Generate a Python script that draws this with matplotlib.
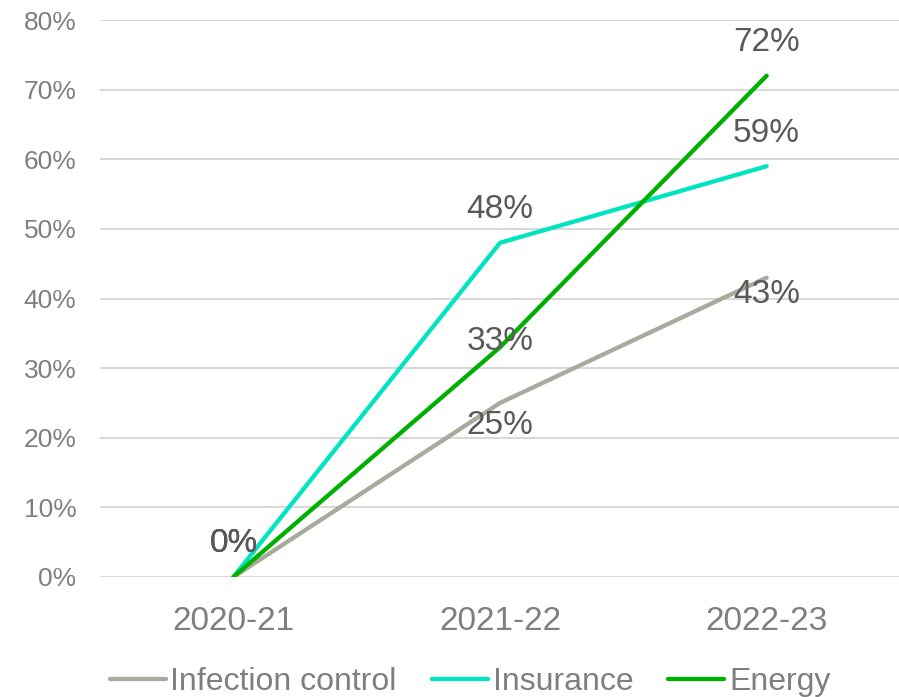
import matplotlib
matplotlib.use("Agg")
import matplotlib.pyplot as plt
from matplotlib.ticker import PercentFormatter

plt.rcParams['font.family'] = ['Liberation Sans', 'DejaVu Sans']

years = ["2020-21", "2021-22", "2022-23"]
infection_control = [0, 25, 43]
insurance = [0, 48, 59]
energy = [0, 33, 72]

series = [
    ("Infection control", infection_control, "#A8AA9B", [(1, 34), (0, -23), (0, -17)]),
    ("Insurance", insurance, "#00E5BF", [(1, 34), (0, 33), (0, 33)]),
    ("Energy", energy, "#00B000", [(1, 34), (0, 6), (0, 33)]),
]

fig = plt.figure(figsize=(8.99, 6.97), dpi=100)
ax = fig.add_axes([100 / 899, 1 - 577 / 697, 800 / 899, (577 - 20) / 697])

x = list(range(len(years)))
for name, vals, color, offs in series:
    ax.plot(x, vals, color=color, lw=3.1, label=name, solid_capstyle='round', zorder=3)
    for xi, v, (dx, dy) in zip(x, vals, offs):
        ax.annotate(f"{v}%", (xi, v), xytext=(dx, dy), textcoords='offset pixels',
                    ha='center', va='center', fontsize=24, color='#595959', zorder=4)

ax.set_xlim(-0.5, 2.5)
ax.set_ylim(0, 80)
ax.set_yticks(range(0, 81, 10))
ax.yaxis.set_major_formatter(PercentFormatter(decimals=0))
ax.set_xticks(x)
ax.set_xticklabels(years)
ax.tick_params(axis='y', length=0, labelsize=19, labelcolor='#7F7F7F', pad=17)
ax.tick_params(axis='x', length=0, labelsize=24, labelcolor='#7F7F7F', pad=21)
ax.grid(axis='y', color='#D9D9D9', lw=1.5, zorder=0)
ax.set_axisbelow(True)
for s in ax.spines.values():
    s.set_visible(False)

fig.legend(loc='center', bbox_to_anchor=(470 / 899, 1 - 682 / 697), ncol=3, frameon=False,
           fontsize=23, labelcolor='#7F7F7F', handlelength=1.75, handletextpad=0.15,
           columnspacing=1.1, borderaxespad=0)

fig.savefig("out.png", dpi=100)
